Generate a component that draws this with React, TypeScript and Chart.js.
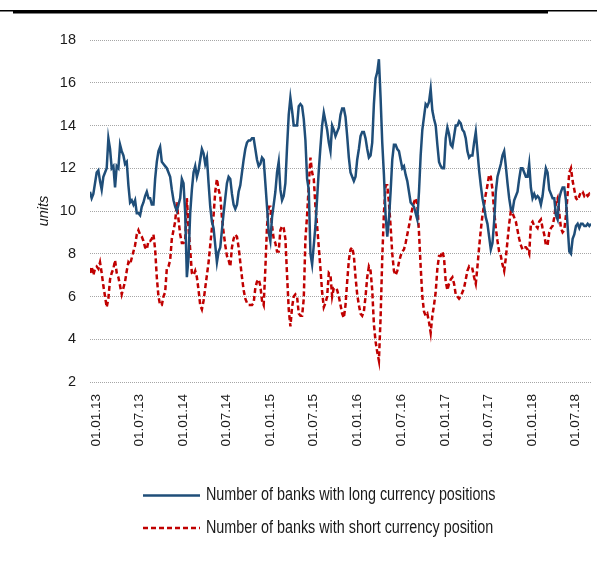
import React, { useEffect, useRef } from "react";
import { Chart, registerables } from "chart.js";

Chart.register(...registerables);

// ---- data ----
const START_DATE = "2012-12-05"; // first weekly observation
const STEP_DAYS = 7;

const TICK_LABELS = [
  "01.01.13", "01.07.13", "01.01.14", "01.07.14", "01.01.15", "01.07.15",
  "01.01.16", "01.07.16", "01.01.17", "01.07.17", "01.01.18", "01.07.18",
];

const Y_TICKS = [2, 4, 6, 8, 10, 12, 14, 16, 18];

const LONG_LABEL = "Number of banks with long currency positions";
const SHORT_LABEL = "Number of banks with short currency position";

const LONG_2013 = [
  10.9, 10.6, 10.8, 11.3, 11.8, 11.9, 11.4, 11.0, 11.6, 11.8,
  12.0, 13.4, 12.9, 12.0, 12.1, 11.1, 12.1, 12.0, 13.1, 12.8,
  12.6, 12.2, 12.3, 11.2, 10.4, 10.5, 10.3, 10.5, 9.9, 9.9,
  9.8, 10.2, 10.4, 10.7, 10.9, 10.6, 10.6, 10.3, 10.3, 11.5,
  12.3, 12.8, 13.0, 12.3, 12.2, 12.1, 12.0, 11.8, 11.6, 11.0,
  10.5, 10.2, 10.0, 10.3, 10.6, 11.5, 11.3, 9.9,
];
const LONG_2014 = [
  6.9, 7.8, 9.9, 11.0, 11.8, 12.1, 11.6, 11.9, 12.4, 12.9,
  12.7, 12.2, 12.5, 11.3, 10.2, 9.5, 9.2, 8.4, 7.6, 8.1,
  8.3, 9.1, 9.9, 10.6, 11.3, 11.6, 11.5, 10.8, 10.3, 10.1,
  10.3, 10.9, 11.2, 11.8, 12.4, 12.9, 13.2, 13.3, 13.3, 13.4,
  13.4, 12.9, 12.4, 12.1, 12.2, 12.5, 12.4, 11.3, 10.2, 9.0,
  8.6, 9.7, 10.3, 10.9, 11.8, 12.3, 11.0, 10.5, 10.7, 11.3,
];
const LONG_2015 = [
  13.0, 14.5, 15.3, 14.7, 14.0, 14.0, 14.0, 14.9, 15.0, 14.9,
  14.3, 13.3, 11.5, 11.0, 8.0, 7.5, 8.4, 9.3, 10.6, 11.9,
  13.0, 14.0, 14.6, 14.2, 13.8, 13.2, 12.8, 14.0, 13.8, 13.5,
  13.7, 13.9, 14.5, 14.8, 14.8, 14.4, 13.5, 12.5, 11.8, 11.6,
  11.4, 11.6, 12.4, 12.9, 13.5, 13.7, 13.7, 13.4, 12.9, 12.5,
  12.6, 13.2, 15.0, 16.2, 16.5, 17.1, 15.3, 13.2, 11.7, 9.8,
];
const LONG_2016 = [
  8.8, 9.6, 10.9, 12.4, 13.1, 13.1, 12.9, 12.8, 12.4, 12.0,
  12.1, 11.7, 11.4, 10.9, 10.4, 10.3, 10.2, 9.9, 9.6, 10.9,
  12.6, 13.8, 14.4, 15.0, 14.9, 15.1, 15.7, 14.7, 14.3, 14.0,
  13.1, 12.3, 12.1, 12.0, 12.0, 13.4, 13.9, 13.6, 13.1, 13.0,
  13.5, 14.0, 14.0, 14.2, 14.1, 13.8, 13.7, 13.4, 12.8, 12.5,
  12.6, 12.6, 13.2, 13.7, 12.8, 11.9, 11.2, 10.6, 10.2, 9.7,
];
const LONG_2017 = [
  9.4, 8.8, 8.2, 8.5, 9.5, 10.9, 11.6, 11.9, 12.2, 12.6,
  12.8, 12.1, 11.3, 10.6, 10.1, 10.0, 10.5, 10.7, 10.9, 11.5,
  12.0, 12.0, 11.8, 11.6, 11.6, 12.2, 11.1, 10.6, 10.8, 10.6,
  10.7, 10.6, 10.3, 10.7, 11.4, 12.0, 11.8, 11.0, 10.8, 10.6,
  10.6, 9.8, 9.6, 10.6, 10.9, 11.1, 11.1, 10.5, 9.3, 8.1,
  8.0, 8.7, 8.9, 9.3, 9.4, 9.2, 9.4, 9.4, 9.3, 9.3,
  9.4, 9.3, 9.4,
];

const SHORT_2013 = [
  7.1, 7.4, 7.0, 7.3, 7.4, 7.3, 7.6, 7.1, 6.5, 6.0,
  5.5, 5.9, 6.8, 7.1, 7.3, 7.7, 7.1, 6.9, 6.5, 6.1,
  6.4, 6.7, 7.2, 7.6, 7.5, 7.8, 8.1, 8.4, 8.9, 9.1,
  8.9, 8.8, 8.6, 8.3, 8.2, 8.6, 8.6, 8.7, 8.9, 8.2,
  6.9, 6.0, 5.6, 5.6, 6.0, 6.2, 7.3, 7.4, 7.7, 8.7,
  9.1, 9.5, 10.4, 9.6, 8.9, 8.5, 8.5, 8.6,
];
const SHORT_2014 = [
  10.6, 9.2, 8.2, 7.1, 7.0, 7.2, 6.9, 6.3, 5.6, 5.4,
  5.8, 6.4, 7.0, 7.6, 8.4, 9.2, 9.8, 10.9, 11.5, 11.0,
  10.7, 9.7, 9.0, 8.4, 7.9, 7.7, 7.4, 8.3, 8.7, 8.9,
  8.8, 8.3, 7.6, 6.9, 6.3, 5.9, 5.7, 5.6, 5.6, 5.6,
  5.7, 6.4, 6.7, 6.8, 6.5, 5.8, 5.6, 7.3, 9.3, 10.2,
  10.2, 9.3, 8.7, 8.5, 8.1, 8.1, 9.1, 9.3, 9.2, 8.7,
];
const SHORT_2015 = [
  7.0, 5.4, 4.6, 5.5, 6.0, 6.1, 6.0, 5.2, 5.1, 5.1,
  5.9, 8.7, 9.8, 11.2, 12.5, 11.8, 11.5, 10.2, 9.3, 8.3,
  7.3, 6.2, 5.5, 5.7, 6.0, 7.1, 7.0, 6.0, 6.4, 6.4,
  6.3, 6.0, 5.6, 5.2, 5.0, 5.6, 6.7, 7.7, 8.2, 8.3,
  7.9, 6.9, 6.1, 5.6, 5.2, 5.1, 5.3, 6.0, 6.9, 7.4,
  7.2, 6.3, 4.7, 3.9, 3.4, 3.0, 5.0, 7.8, 9.9, 11.2,
];
const SHORT_2016 = [
  11.2, 10.4, 9.3, 8.0, 7.2, 7.0, 7.2, 7.6, 7.9, 8.1,
  8.2, 8.5, 8.9, 9.3, 9.7, 10.1, 10.4, 10.6, 10.3, 9.0,
  7.4, 6.0, 5.3, 5.1, 5.2, 4.8, 4.3, 5.1, 5.6, 6.2,
  7.3, 7.9, 7.9, 8.1, 7.8, 6.7, 6.3, 6.6, 6.8, 6.9,
  6.6, 6.1, 6.0, 5.9, 6.0, 6.2, 6.4, 6.8, 7.2, 7.4,
  7.3, 7.3, 6.9, 6.6, 7.4, 8.3, 9.1, 9.8, 10.3, 10.8,
];
const SHORT_2017 = [
  11.2, 11.7, 11.6, 11.0, 10.0, 9.2, 8.6, 8.1, 7.9, 7.5,
  7.2, 7.8, 8.6, 9.4, 10.0, 9.9, 9.7, 9.5, 9.1, 8.7,
  8.4, 8.2, 8.3, 8.3, 8.2, 8.0, 9.4, 9.5, 9.3, 9.3,
  9.2, 9.5, 9.6, 9.2, 8.9, 8.4, 8.4, 9.0, 9.2, 9.3,
  9.7, 10.4, 10.6, 9.9, 9.2, 9.0, 9.1, 9.8, 10.8, 11.8,
  12.0, 11.4, 11.0, 10.6, 10.5, 10.7, 10.9, 10.9, 10.7, 10.8,
  10.7, 10.8, 10.7,
];

const LONG_POSITIONS = [...LONG_2013, ...LONG_2014, ...LONG_2015, ...LONG_2016, ...LONG_2017];
const SHORT_POSITIONS = [...SHORT_2013, ...SHORT_2014, ...SHORT_2015, ...SHORT_2016, ...SHORT_2017];

// ---- helpers ----
const DAY = 86400000;
const startDay = Date.parse(START_DATE + "T00:00:00Z") / DAY;
const labelToDay = (s: string) => {
  const [d, m, y] = s.split(".").map(Number);
  return Date.UTC(2000 + y, m - 1, d) / DAY;
};
const TICK_DAYS = TICK_LABELS.map(labelToDay);

const BLUE = "#1f4e79";
const RED = "#c00000";
const FONT = "'Liberation Sans', Arial, sans-serif";
const TEXT = "#1a1a1a";

const decorPlugin = {
  id: "decor",
  afterDraw(chart: any) {
    const ctx = chart.ctx;
    ctx.save();
    // top rule
    ctx.fillStyle = "#000";
    ctx.fillRect(0, 10, 597, 1.5);
    ctx.fillRect(13, 10, 535, 3.5);
    // legend
    const items = [
      { label: LONG_LABEL, color: BLUE, dash: [] as number[], y: 495.5 },
      { label: SHORT_LABEL, color: RED, dash: [5, 3], y: 528 },
    ];
    for (const it of items) {
      ctx.beginPath();
      ctx.setLineDash(it.dash);
      ctx.strokeStyle = it.color;
      ctx.lineWidth = 2.5;
      ctx.moveTo(143, it.y);
      ctx.lineTo(200, it.y);
      ctx.stroke();
      ctx.setLineDash([]);
      // narrow-looking text: condensed horizontally
      ctx.save();
      ctx.translate(206, it.y);
      ctx.scale(0.82, 1);
      ctx.font = `17.5px ${FONT}`;
      ctx.textBaseline = "middle";
      ctx.textAlign = "left";
      ctx.fillStyle = TEXT;
      ctx.fillText(it.label, 0, 0);
      ctx.restore();
    }
    ctx.restore();
  },
};

export default function App() {
  const ref = useRef<HTMLCanvasElement | null>(null);

  useEffect(() => {
    if (!ref.current) return;
    const toPoints = (arr: number[]) =>
      arr.map((v, i) => ({ x: startDay + i * STEP_DAYS, y: v }));
    const lastDay = startDay + (LONG_POSITIONS.length - 1) * STEP_DAYS;

    const chart = new Chart(ref.current, {
      type: "line",
      data: {
        datasets: [
          {
            label: LONG_LABEL,
            data: toPoints(LONG_POSITIONS),
            borderColor: BLUE,
            borderWidth: 2.5,
            pointRadius: 0,
            tension: 0,
            fill: false,
          },
          {
            label: SHORT_LABEL,
            data: toPoints(SHORT_POSITIONS),
            borderColor: RED,
            borderWidth: 2.5,
            borderDash: [5, 3],
            pointRadius: 0,
            tension: 0,
            fill: false,
          },
        ],
      },
      options: {
        animation: false,
        responsive: false,
        devicePixelRatio: 1,
        layout: { padding: { top: 40, right: 6, bottom: 100, left: 0 } },
        plugins: {
          legend: { display: false },
          tooltip: { enabled: false },
        },
        scales: {
          x: {
            type: "linear",
            min: startDay,
            max: lastDay,
            grid: { display: false, drawTicks: false },
            border: { display: false },
            afterBuildTicks: (axis: any) => {
              axis.ticks = TICK_DAYS.map((v) => ({ value: v }));
            },
            afterFit: (axis: any) => {
              axis.height = 80;
              axis.paddingLeft = 0;
              axis.paddingRight = 0;
            },
            ticks: {
              autoSkip: false,
              minRotation: 90,
              maxRotation: 90,
              padding: 12,
              color: TEXT,
              font: { family: FONT, size: 13.5 },
              callback: (v: any) => {
                const idx = TICK_DAYS.indexOf(Number(v));
                return idx >= 0 ? TICK_LABELS[idx] : "";
              },
            },
          },
          y: {
            min: 2,
            max: 18,
            afterBuildTicks: (axis: any) => {
              axis.ticks = Y_TICKS.map((v) => ({ value: v }));
            },
            afterFit: (axis: any) => {
              axis.width = 90;
              axis.paddingTop = 0;
              axis.paddingBottom = 0;
            },
            grid: { color: "#a6a6a6", lineWidth: 1, drawTicks: false },
            border: { display: false, dash: [1, 1] },
            ticks: {
              padding: 14,
              color: TEXT,
              font: { family: FONT, size: 14.5 },
            },
            title: {
              display: true,
              text: "units",
              color: TEXT,
              padding: { top: 35, bottom: 0 },
              font: { family: FONT, size: 14.5, style: "italic" },
            },
          },
        },
      },
      plugins: [decorPlugin],
    });
    return () => chart.destroy();
  }, []);

  return (
    <div style={{ position: "absolute", left: 0, top: 0, width: 597, height: 562, background: "#fff" }}>
      <canvas ref={ref} width={597} height={562} />
    </div>
  );
}
